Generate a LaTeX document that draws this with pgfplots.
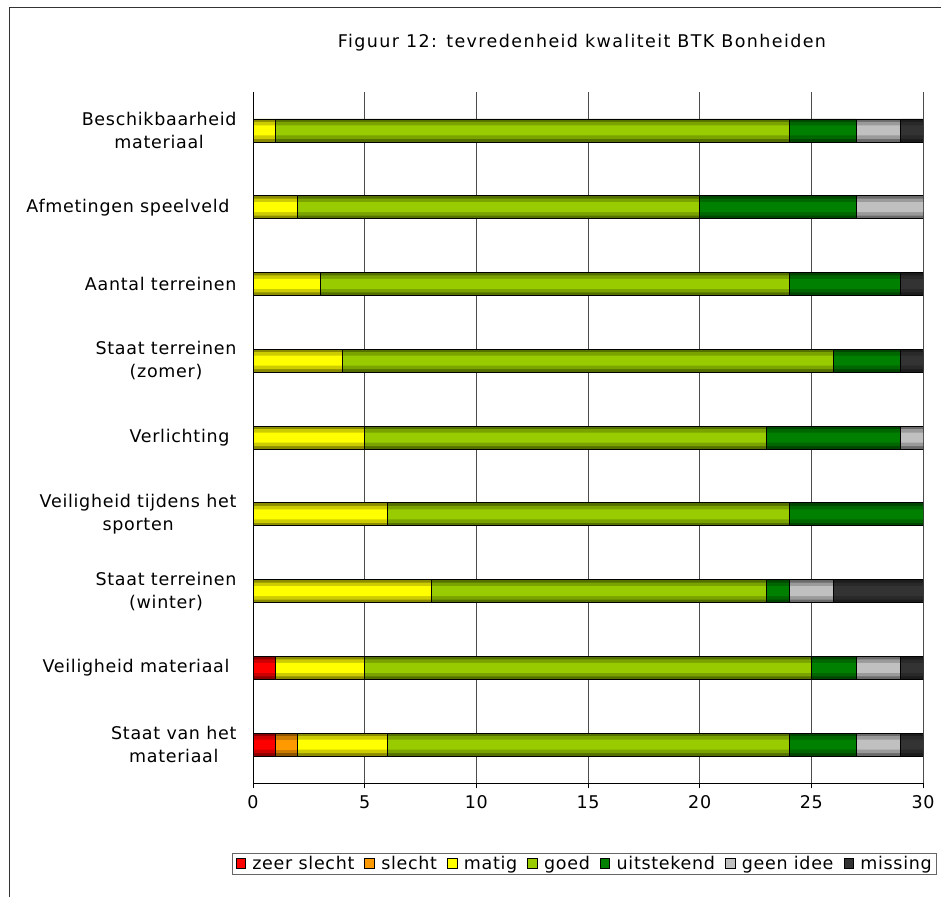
\documentclass[border=0pt]{standalone}
\usepackage{fontspec}
\setmainfont[LetterSpace=4]{DejaVu Sans}
\newfontfamily\titlefont[LetterSpace=8]{DejaVu Sans}
\usepackage{pgfplots}
\usepackage{pgfplotstable}
\pgfplotsset{compat=1.18}

\definecolor{czs}{HTML}{FF0000}
\definecolor{csl}{HTML}{FF9900}
\definecolor{cma}{HTML}{FFFF00}
\definecolor{cgo}{HTML}{99CC00}
\definecolor{cui}{HTML}{008000}
\definecolor{cge}{HTML}{C0C0C0}
\definecolor{cmi}{HTML}{333333}

% idx 0 = top bar
\pgfplotstableread{
idx zs sl ma go ui ge mi
0   0  0  1  23 3  2  1
1   0  0  2  18 7  3  0
2   0  0  3  21 5  0  1
3   0  0  4  22 3  0  1
4   0  0  5  18 6  1  0
5   0  0  6  18 6  0  0
6   0  0  8  15 1  2  4
7   1  0  4  20 2  2  1
8   1  1  4  18 3  2  1
}\data

\pgfplotsset{
  base/.style={
    at={(253pt,-783pt)}, anchor=south west,
    scale only axis, width=670pt, height=691pt,
    xbar stacked,
    xmin=0, xmax=30, ymin=-0.5, ymax=8.5, y dir=reverse,
  },
  over/.style={base, hide axis, bar width=#1},
  % bar layers: dark edge, middle tone, bright core, outline
  la/.style={fill=#1!55!black, draw=none},
  lb/.style={fill=#1!80!black, draw=none},
  lc/.style={fill=#1, draw=none},
  ld/.style={fill=none, draw=black, line width=0.8pt,
    legend image code/.code={\draw[fill=#1, draw=black, line width=0.8pt] (0pt,-4.5pt) rectangle (9.5pt,5pt); \path (14pt,0pt);}},
}

\newcommand\allbars[1]{%
\addplot[#1=czs] table[x=zs, y=idx] {\data};
\addplot[#1=csl] table[x=sl, y=idx] {\data};
\addplot[#1=cma] table[x=ma, y=idx] {\data};
\addplot[#1=cgo] table[x=go, y=idx] {\data};
\addplot[#1=cui] table[x=ui, y=idx] {\data};
\addplot[#1=cge] table[x=ge, y=idx] {\data};
\addplot[#1=cmi] table[x=mi, y=idx] {\data};
}

\begin{document}
\begin{tikzpicture}[font=\fontsize{17.5}{23}\selectfont]
\path[use as bounding box] (0pt,0pt) rectangle (941pt,-897pt);
\draw[black!80, line width=1pt] (9pt,-897pt) -- (9pt,-7pt) -- (941pt,-7pt);
\node at (582pt,-43pt) {\titlefont Figuur 12: tevredenheid kwaliteit BTK Bonheiden};
\begin{axis}[
  base, bar width=23pt,
  xtick={0,5,...,30}, ytick={0,...,8},
  yticklabels={Beschikbaarheid\\materiaal, Afmetingen speelveld\hspace*{7pt}, Aantal terreinen,
    Staat terreinen\\(zomer), Verlichting\hspace*{7pt}, Veiligheid tijdens het\\sporten,
    Staat terreinen\\(winter), Veiligheid materiaal\hspace*{7pt}, Staat van het\\materiaal},
  yticklabel style={anchor=east, align=center, xshift=-8pt},
  xticklabel style={yshift=-4pt},
  /pgf/number format/assume math mode=true,
  ytick style={draw=none},
  xtick style={black, line width=0.9pt},
  tick align=outside, major tick length=5pt,
  axis x line*=bottom, axis y line*=left,
  axis line style={-, black, line width=0.9pt},
  xmajorgrids, major grid style={black!70, line width=0.7pt},
]
\allbars{la}
\end{axis}
\begin{axis}[over=17pt]
\allbars{lb}
\end{axis}
\begin{axis}[over=10pt]
\allbars{lc}
\end{axis}
\begin{axis}[over=23pt,
  legend columns=-1,
  legend style={at={(0.495,-0.117)}, anchor=center, draw=black!60, line width=0.8pt,
    inner xsep=3pt, inner ysep=1pt,
    /tikz/every even column/.append style={column sep=8pt}},
]
\allbars{ld}
\legend{zeer slecht, slecht, matig, goed, uitstekend, geen idee, missing}
\end{axis}
\end{tikzpicture}
\end{document}
